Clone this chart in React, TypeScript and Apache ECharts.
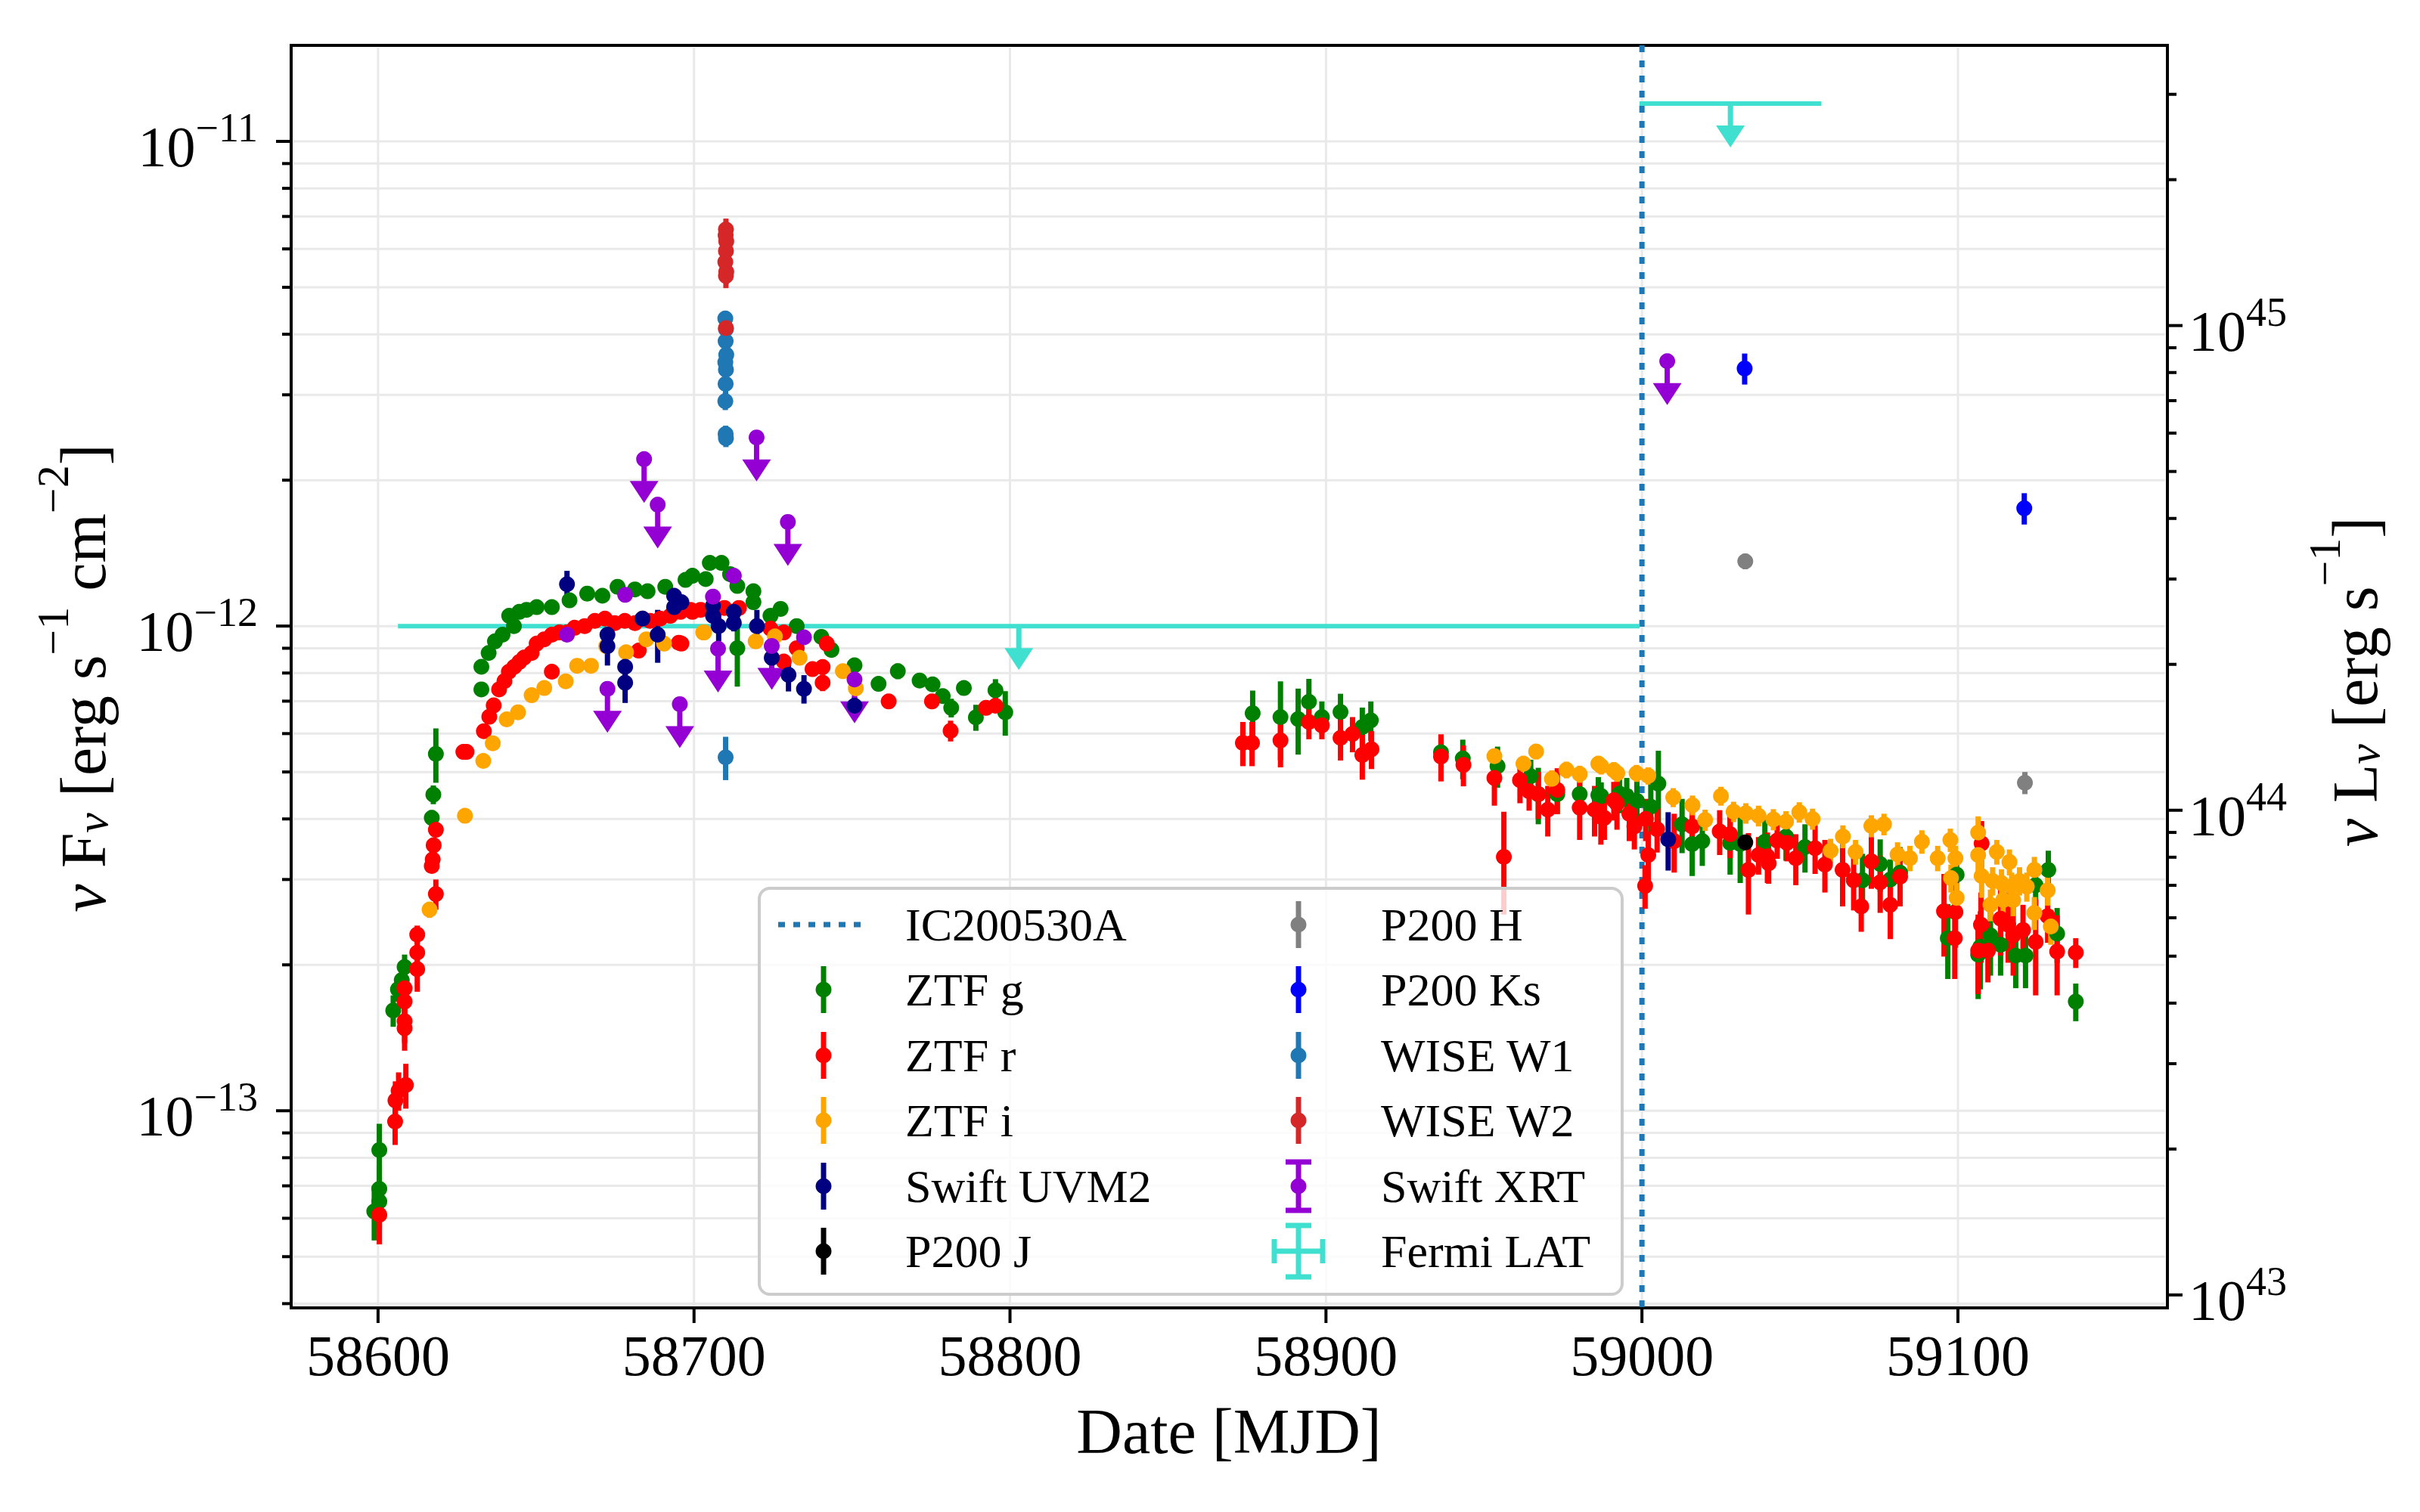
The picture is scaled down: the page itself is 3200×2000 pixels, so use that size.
import React, { useEffect, useRef } from 'react';
import * as echarts from 'echarts';

// fluxes are in units of 1e-12 erg s^-1 cm^-2 : [MJD, flux, error]
const ztfG = [
  [58598.8, 0.062, 0.008], [58600.4, 0.065, 0.008], [58600.4, 0.069, 0.008], [58600.4, 0.083, 0.011],
  [58604.8, 0.161, 0.012], [58606.3, 0.178, 0.01], [58607.5, 0.186, 0.01], [58608.4, 0.198, 0.012],
  [58617.0, 0.402, 0.015], [58617.5, 0.449, 0.02], [58618.3, 0.545, 0.07],
  [58632.7, 0.74, 0.02], [58632.7, 0.824, 0.02], [58635.0, 0.88, 0.02], [58637.0, 0.93, 0.02],
  [58639.4, 0.96, 0.02], [58641.5, 1.05, 0.02], [58643.0, 1.0, 0.02], [58644.7, 1.07, 0.02],
  [58647.0, 1.08, 0.02], [58650.2, 1.094, 0.02], [58655.0, 1.094, 0.02], [58660.6, 1.13, 0.02],
  [58666.2, 1.167, 0.02], [58671.0, 1.155, 0.02], [58675.8, 1.205, 0.02], [58681.3, 1.19, 0.02],
  [58685.3, 1.18, 0.02], [58690.9, 1.205, 0.02], [58697.3, 1.245, 0.02], [58699.5, 1.27, 0.02],
  [58703.7, 1.25, 0.02], [58705.0, 1.35, 0.02], [58708.7, 1.35, 0.02], [58711.4, 1.28, 0.02],
  [58713.7, 1.21, 0.02], [58713.7, 0.9, 0.15], [58718.8, 1.18, 0.02], [58718.8, 1.12, 0.02],
  [58724.2, 1.05, 0.02], [58727.4, 1.085, 0.02], [58732.5, 1.0, 0.02], [58740.3, 0.95, 0.02],
  [58743.5, 0.893, 0.02], [58750.8, 0.83, 0.02], [58758.4, 0.76, 0.02], [58764.5, 0.807, 0.03],
  [58771.4, 0.772, 0.02], [58775.5, 0.758, 0.02], [58778.7, 0.717, 0.02], [58781.4, 0.678, 0.03],
  [58785.4, 0.745, 0.02], [58789.2, 0.648, 0.04], [58795.4, 0.737, 0.04], [58798.5, 0.664, 0.07],
  [58876.8, 0.661, 0.075], [58885.6, 0.649, 0.12], [58891.2, 0.643, 0.1], [58894.6, 0.698, 0.08],
  [58898.7, 0.649, 0.05], [58904.6, 0.665, 0.06], [58911.5, 0.619, 0.06], [58914.2, 0.639, 0.06],
  [58936.4, 0.549, 0.04], [58943.3, 0.533, 0.05], [58954.3, 0.514, 0.05], [58964.8, 0.49, 0.04],
  [58967.2, 0.45, 0.06], [58973.2, 0.45, 0.04], [58980.3, 0.45, 0.04], [58986.2, 0.448, 0.04],
  [58987.1, 0.446, 0.03], [58992.9, 0.451, 0.04], [58995.2, 0.446, 0.04], [58998.4, 0.436, 0.05],
  [59002.8, 0.424, 0.05], [59005.2, 0.473, 0.08], [59012.7, 0.39, 0.05], [59015.9, 0.355, 0.05],
  [59019.1, 0.36, 0.04], [59027.9, 0.357, 0.05], [59031.1, 0.355, 0.06], [59038.9, 0.359, 0.04],
  [59045.6, 0.368, 0.04], [59051.6, 0.35, 0.04], [59069.8, 0.299, 0.04], [59075.4, 0.323, 0.04],
  [59078.6, 0.3, 0.03], [59081.7, 0.31, 0.04], [59096.8, 0.227, 0.04], [59099.6, 0.307, 0.03],
  [59106.4, 0.21, 0.04], [59107.1, 0.218, 0.04], [59110.3, 0.23, 0.04], [59113.5, 0.22, 0.03],
  [59118.3, 0.209, 0.03], [59121.4, 0.209, 0.03], [59124.6, 0.292, 0.03], [59128.6, 0.314, 0.03],
  [59131.4, 0.232, 0.03], [59137.3, 0.168, 0.015],
];

const ztfR = [
  [58600.4, 0.061, 0.008], [58605.4, 0.095, 0.01], [58605.5, 0.105, 0.01], [58606.5, 0.11, 0.01],
  [58608.8, 0.113, 0.012], [58608.4, 0.148, 0.015], [58608.4, 0.153, 0.015], [58608.4, 0.168, 0.015],
  [58608.4, 0.179, 0.015], [58612.4, 0.196, 0.02], [58612.4, 0.212, 0.015], [58612.4, 0.231, 0.01],
  [58617.0, 0.32, 0.01], [58617.3, 0.33, 0.01], [58617.6, 0.353, 0.01], [58618.3, 0.38, 0.01],
  [58618.3, 0.28, 0.02], [58627.0, 0.55, 0.01], [58628.0, 0.55, 0.01], [58633.5, 0.607, 0.01],
  [58635.2, 0.65, 0.01], [58636.6, 0.686, 0.01], [58638.3, 0.74, 0.01], [58640.0, 0.77, 0.01],
  [58641.4, 0.805, 0.01], [58643.1, 0.824, 0.01], [58644.7, 0.843, 0.01], [58646.2, 0.861, 0.01],
  [58648.6, 0.88, 0.01], [58650.2, 0.92, 0.01], [58652.6, 0.939, 0.01], [58655.0, 0.96, 0.01],
  [58655.0, 0.805, 0.01], [58657.4, 0.97, 0.01], [58659.8, 0.97, 0.01], [58662.2, 0.992, 0.01],
  [58665.4, 1.0, 0.01], [58668.6, 1.025, 0.01], [58671.8, 1.036, 0.01], [58674.9, 1.014, 0.01],
  [58678.1, 1.025, 0.01], [58681.3, 1.014, 0.01], [58682.5, 0.89, 0.01], [58683.7, 1.036, 0.01],
  [58686.1, 1.025, 0.01], [58689.3, 1.036, 0.01], [58692.5, 1.05, 0.01], [58695.2, 0.924, 0.01],
  [58695.7, 1.07, 0.01], [58696.0, 0.92, 0.01], [58698.9, 1.08, 0.01], [58699.5, 1.07, 0.01],
  [58702.1, 1.08, 0.01], [58709.6, 1.09, 0.01], [58714.2, 1.09, 0.01], [58724.2, 0.988, 0.02],
  [58728.4, 0.97, 0.02], [58728.4, 0.845, 0.02], [58732.5, 0.9, 0.02], [58737.5, 0.815, 0.02],
  [58740.7, 0.823, 0.02], [58740.7, 0.764, 0.03], [58742.0, 0.92, 0.02], [58761.6, 0.699, 0.02],
  [58775.3, 0.699, 0.02], [58781.2, 0.608, 0.03], [58792.4, 0.678, 0.02], [58795.4, 0.685, 0.02],
  [58873.7, 0.574, 0.06], [58876.6, 0.574, 0.06], [58885.6, 0.581, 0.07], [58894.6, 0.634, 0.05],
  [58898.7, 0.624, 0.04], [58904.6, 0.588, 0.06], [58908.4, 0.599, 0.05], [58911.5, 0.542, 0.06],
  [58914.4, 0.557, 0.05], [58936.4, 0.538, 0.06], [58943.5, 0.517, 0.05], [58953.3, 0.486, 0.06],
  [58956.3, 0.334, 0.08], [58961.4, 0.481, 0.05], [58964.3, 0.456, 0.04], [58967.2, 0.45, 0.05],
  [58970.2, 0.418, 0.05], [58973.2, 0.459, 0.05], [58980.3, 0.422, 0.06], [58985.0, 0.418, 0.05],
  [58987.0, 0.404, 0.05], [58988.1, 0.402, 0.04], [58991.1, 0.437, 0.04], [58992.1, 0.43, 0.05],
  [58996.0, 0.41, 0.05], [58997.6, 0.386, 0.04], [59001.0, 0.291, 0.03], [59001.2, 0.4, 0.04],
  [59002.0, 0.337, 0.04], [59004.8, 0.381, 0.04], [59010.2, 0.36, 0.05], [59015.9, 0.386, 0.04],
  [59024.6, 0.377, 0.04], [59027.9, 0.372, 0.04], [59033.7, 0.314, 0.06], [59036.9, 0.337, 0.03],
  [59039.7, 0.335, 0.04], [59040.1, 0.324, 0.03], [59042.8, 0.361, 0.03], [59045.9, 0.357, 0.03],
  [59048.7, 0.332, 0.04], [59054.8, 0.348, 0.04], [59057.9, 0.322, 0.04], [59063.5, 0.314, 0.05],
  [59067.0, 0.299, 0.04], [59069.4, 0.264, 0.03], [59072.6, 0.327, 0.04], [59075.4, 0.296, 0.04],
  [59078.6, 0.266, 0.04], [59081.7, 0.304, 0.04], [59095.6, 0.258, 0.05], [59099.2, 0.257, 0.04],
  [59099.0, 0.227, 0.04], [59106.4, 0.214, 0.04], [59107.3, 0.242, 0.04], [59107.5, 0.356, 0.04],
  [59109.5, 0.214, 0.03], [59113.5, 0.249, 0.04], [59115.9, 0.242, 0.04], [59117.5, 0.23, 0.04],
  [59120.6, 0.236, 0.03], [59124.6, 0.223, 0.05], [59128.4, 0.252, 0.03], [59131.4, 0.213, 0.04],
  [59137.3, 0.212, 0.015],
];

const ztfI = [
  [58616.3, 0.26, 0.01], [58627.5, 0.406, 0.01], [58633.3, 0.527, 0.01], [58636.3, 0.573, 0.01],
  [58640.7, 0.642, 0.01], [58644.3, 0.664, 0.01], [58648.6, 0.72, 0.01], [58652.6, 0.745, 0.01],
  [58659.4, 0.769, 0.01], [58663.0, 0.828, 0.01], [58667.4, 0.828, 0.01], [58672.2, 0.909, 0.01],
  [58678.5, 0.883, 0.01], [58684.9, 0.939, 0.01], [58690.5, 0.92, 0.01], [58702.9, 0.97, 0.01],
  [58703.2, 0.97, 0.01], [58719.5, 0.93, 0.01], [58725.6, 0.952, 0.01], [58733.4, 0.86, 0.01],
  [58747.1, 0.807, 0.01], [58751.2, 0.744, 0.01],
  [58953.3, 0.539, 0.02], [58962.5, 0.52, 0.02], [58966.5, 0.551, 0.02], [58971.5, 0.484, 0.02],
  [58976.1, 0.505, 0.02], [58980.3, 0.495, 0.02], [58986.2, 0.52, 0.02], [58987.1, 0.514, 0.02],
  [58991.1, 0.504, 0.02], [58992.2, 0.497, 0.02], [58998.3, 0.497, 0.02], [59002.0, 0.491, 0.02],
  [59009.9, 0.443, 0.02], [59016.0, 0.427, 0.02], [59020.0, 0.398, 0.02], [59025.0, 0.446, 0.02],
  [59029.0, 0.414, 0.02], [59032.9, 0.411, 0.02], [59036.9, 0.406, 0.02], [59041.6, 0.399, 0.02],
  [59045.6, 0.395, 0.02], [59049.8, 0.413, 0.02], [59054.0, 0.4, 0.02], [59059.7, 0.344, 0.02],
  [59063.6, 0.368, 0.02], [59067.6, 0.342, 0.02], [59072.6, 0.387, 0.02], [59076.6, 0.39, 0.02],
  [59080.9, 0.338, 0.02], [59084.8, 0.332, 0.02], [59088.6, 0.359, 0.02], [59093.6, 0.332, 0.02],
  [59097.6, 0.362, 0.02], [59097.8, 0.302, 0.02], [59099.2, 0.332, 0.02], [59099.6, 0.275, 0.02],
  [59106.4, 0.375, 0.03], [59106.4, 0.337, 0.03], [59107.5, 0.305, 0.03], [59110.3, 0.266, 0.02],
  [59111.0, 0.298, 0.02], [59112.3, 0.342, 0.02], [59113.8, 0.295, 0.02], [59114.3, 0.272, 0.02],
  [59116.3, 0.326, 0.02], [59117.0, 0.29, 0.02], [59117.5, 0.272, 0.02], [59119.5, 0.298, 0.02],
  [59121.8, 0.29, 0.02], [59124.2, 0.314, 0.02], [59124.2, 0.256, 0.02], [59128.4, 0.285, 0.02],
  [59129.4, 0.24, 0.02],
];

const swiftUvm2 = [
  [58659.8, 1.22, 0.08], [58672.6, 0.96, 0.03], [58672.6, 0.909, 0.08], [58678.2, 0.824, 0.03],
  [58678.2, 0.764, 0.07], [58683.7, 1.036, 0.03], [58688.5, 0.96, 0.12], [58693.7, 1.155, 0.03],
  [58693.7, 1.094, 0.03], [58696.0, 1.12, 0.03], [58706.0, 1.1, 0.03], [58706.0, 1.05, 0.03],
  [58707.8, 1.0, 0.07], [58712.6, 1.07, 0.03], [58712.6, 1.015, 0.04], [58719.9, 1.0, 0.08],
  [58724.6, 0.86, 0.03], [58729.9, 0.793, 0.06], [58734.8, 0.742, 0.05], [58750.8, 0.685, 0.03],
  [59008.3, 0.363, 0.05],
];

const p200J = [[59032.7, 0.358, 0.008]];
const p200H = [[59032.7, 1.36, 0.05], [59121.2, 0.475, 0.025]];
const p200Ks = [[59032.5, 3.4, 0.25], [59121.0, 1.75, 0.13]];

const wiseW1 = [
  [58709.9, 4.31, 0.15], [58710.1, 4.1, 0.15], [58710.0, 3.87, 0.15], [58710.2, 3.63, 0.15],
  [58709.9, 3.5, 0.15], [58710.1, 3.38, 0.15], [58710.0, 3.16, 0.15], [58709.9, 2.91, 0.12],
  [58710.0, 2.49, 0.1], [58710.1, 2.44, 0.1], [58710.0, 0.536, 0.055],
];
const wiseW2 = [
  [58710.1, 6.58, 0.35], [58710.0, 6.4, 0.35], [58710.2, 6.22, 0.35], [58710.1, 5.94, 0.35],
  [58709.9, 5.64, 0.3], [58710.2, 5.38, 0.3], [58710.1, 5.28, 0.3], [58710.1, 4.12, 0.25],
];

const xrtDetections = [
  [58659.8, 0.96, 0.03], [58678.2, 1.16, 0.03], [58706.0, 1.15, 0.03], [58712.6, 1.27, 0.03],
  [58734.8, 0.948, 0.03],
];
// upper limits: [MJD, flux]
const xrtUpperLimits = [
  [58672.6, 0.742], [58684.2, 2.21], [58688.5, 1.78], [58695.5, 0.69], [58707.6, 0.898],
  [58719.8, 2.45], [58724.6, 0.91], [58729.7, 1.64], [58750.8, 0.776], [59008.0, 3.52],
];
// Fermi LAT upper limits: [MJD centre, flux, half width in days]
const fermiUpperLimits = [[58802.8, 1.0, 196.5], [59028.0, 11.97, 28.8]];

const neutrinoMjd = [59000];

const xTicks = [58600, 58700, 58800, 58900, 59000, 59100];
const fluxMajorTicks = [1e-13, 1e-12, 1e-11];
const fluxMinorTicks = [
  4e-14, 5e-14, 6e-14, 7e-14, 8e-14, 9e-14,
  2e-13, 3e-13, 4e-13, 5e-13, 6e-13, 7e-13, 8e-13, 9e-13,
  2e-12, 3e-12, 4e-12, 5e-12, 6e-12, 7e-12, 8e-12, 9e-12,
];
const lumMajorTicks = [1e43, 1e44, 1e45];
const lumMinorTicks = [
  2e43, 3e43, 4e43, 5e43, 6e43, 7e43, 8e43, 9e43,
  2e44, 3e44, 4e44, 5e44, 6e44, 7e44, 8e44, 9e44,
  2e45, 3e45,
];

const X_MIN = 58572.5;
const X_MAX = 59166.3;
const FLUX_MIN = 3.92e-14;
const FLUX_MAX = 1.578e-11;
const LUM_PER_FLUX = Math.pow(10, 56.38);

const FONT = '"Liberation Serif", "DejaVu Serif", serif';
const GRID_COLOR = '#e9e9e9';

const legendLeft = [
  { name: 'IC200530A', color: '#1f77b4', kind: 'dotted' },
  { name: 'ZTF g', color: '#008000', kind: 'bar' },
  { name: 'ZTF r', color: '#ff0000', kind: 'bar' },
  { name: 'ZTF i', color: '#ffa500', kind: 'bar' },
  { name: 'Swift UVM2', color: '#000080', kind: 'bar' },
  { name: 'P200 J', color: '#000000', kind: 'bar' },
];
const legendRight = [
  { name: 'P200 H', color: '#808080', kind: 'bar' },
  { name: 'P200 Ks', color: '#0000ff', kind: 'bar' },
  { name: 'WISE W1', color: '#1f77b4', kind: 'bar' },
  { name: 'WISE W2', color: '#d62728', kind: 'bar' },
  { name: 'Swift XRT', color: '#9400d3', kind: 'caps' },
  { name: 'Fermi LAT', color: '#40e0d0', kind: 'cross' },
];

const toFlux = (rows: number[][]) => rows.map((r) => [r[0], r[1] * 1e-12, (r[2] || 0) * 1e-12]);

function powerLabel(v: number) {
  const e = Math.log10(v);
  const n = Math.round(e);
  if (Math.abs(e - n) > 1e-6) return '';
  return `{b|10}{s|${n < 0 ? '\u2212' + -n : n}}`;
}

const labelRich = {
  b: { fontSize: 76, lineHeight: 90, verticalAlign: 'bottom', fontFamily: FONT, color: '#000' },
  s: { fontSize: 54, lineHeight: 50, verticalAlign: 'top', fontFamily: FONT, color: '#000' },
};

function errorBars(name: string, rows: number[][], color: string) {
  return {
    name, type: 'custom', coordinateSystem: 'cartesian2d', silent: true, clip: true,
    data: toFlux(rows), encode: { x: 0, y: 1 },
    renderItem: (params: any, api: any) => {
      const t = api.value(0), f = api.value(1), e = api.value(2);
      const hi = api.coord([t, f + e]);
      const lo = api.coord([t, Math.max(f - e, f * 0.02)]);
      return { type: 'line', shape: { x1: hi[0], y1: hi[1], x2: lo[0], y2: lo[1] }, style: { stroke: color, lineWidth: 7 } };
    },
  };
}

function markers(name: string, rows: number[][], color: string) {
  return {
    name, type: 'scatter', silent: true, symbol: 'circle', symbolSize: 21,
    data: toFlux(rows).map((r) => [r[0], r[1]]),
    itemStyle: { color, opacity: 1 },
  };
}

function upperLimits(name: string, rows: number[][], color: string, withSpan: boolean) {
  return {
    name, type: 'custom', coordinateSystem: 'cartesian2d', silent: true, clip: true,
    data: toFlux(rows), encode: { x: 0, y: 1 },
    renderItem: (params: any, api: any) => {
      const t = api.value(0), f = api.value(1), w = api.value(2) / 1e-12;
      const p = api.coord([t, f]);
      const children: any[] = [];
      if (withSpan) {
        const a = api.coord([t - w, f]);
        const b = api.coord([t + w, f]);
        children.push({ type: 'line', shape: { x1: a[0], y1: p[1], x2: b[0], y2: p[1] }, style: { stroke: color, lineWidth: 6 } });
      }
      children.push({ type: 'line', shape: { x1: p[0], y1: p[1], x2: p[0], y2: p[1] + 31 }, style: { stroke: color, lineWidth: 7 } });
      children.push({ type: 'polygon', shape: { points: [[p[0] - 19, p[1] + 29], [p[0] + 19, p[1] + 29], [p[0], p[1] + 58]] }, style: { fill: color } });
      return { type: 'group', children };
    },
  };
}

function yTickSeries(major: number[], minor: number[], axisIndex: number, withGrid: boolean) {
  const rows = [...major.map((v) => [X_MIN + 1, v, 1]), ...minor.map((v) => [X_MIN + 1, v, 0])];
  return {
    type: 'custom', coordinateSystem: 'cartesian2d', yAxisIndex: axisIndex, silent: true, clip: false,
    data: rows, encode: { x: 0, y: 1 },
    renderItem: (params: any, api: any) => {
      const cs = params.coordSys;
      const y = api.coord([api.value(0), api.value(1)])[1];
      const len = api.value(2) ? 20 : 12;
      const children: any[] = [];
      if (withGrid) {
        children.push({ type: 'line', shape: { x1: cs.x + 3, y1: y, x2: cs.x + cs.width - 3, y2: y }, style: { stroke: GRID_COLOR, lineWidth: 3 } });
      }
      const x0 = axisIndex === 0 ? cs.x - len : cs.x + cs.width;
      children.push({ type: 'line', shape: { x1: x0, y1: y, x2: x0 + len, y2: y }, style: { stroke: '#000', lineWidth: 4 } });
      return { type: 'group', children };
    },
  };
}

function xTickSeries() {
  return {
    type: 'custom', coordinateSystem: 'cartesian2d', silent: true, clip: false,
    data: xTicks.map((t) => [t, 1e-12]), encode: { x: 0, y: 1 },
    renderItem: (params: any, api: any) => {
      const cs = params.coordSys;
      const x = api.coord([api.value(0), api.value(1)])[0];
      const bottom = cs.y + cs.height;
      return {
        type: 'group',
        children: [
          { type: 'line', shape: { x1: x, y1: cs.y + 3, x2: x, y2: bottom - 3 }, style: { stroke: GRID_COLOR, lineWidth: 3 } },
          { type: 'line', shape: { x1: x, y1: bottom, x2: x, y2: bottom + 20 }, style: { stroke: '#000', lineWidth: 4 } },
        ],
      };
    },
  };
}

function neutrinoLine() {
  return {
    name: 'IC200530A', type: 'custom', coordinateSystem: 'cartesian2d', silent: true, clip: true,
    data: neutrinoMjd.map((t) => [t, 1e-12]), encode: { x: 0, y: 1 },
    renderItem: (params: any, api: any) => {
      const cs = params.coordSys;
      const x = api.coord([api.value(0), api.value(1)])[0];
      return { type: 'line', shape: { x1: x, y1: cs.y, x2: x, y2: cs.y + cs.height }, style: { stroke: '#1f77b4', lineWidth: 7, lineDash: [9, 11] } };
    },
  };
}

function legendGraphic() {
  const rowsY = [1223, 1309, 1396, 1482, 1569, 1655];
  const cols = [
    { items: legendLeft, mx: 1089, tx: 1197 },
    { items: legendRight, mx: 1717, tx: 1826 },
  ];
  const Z = 100;
  const els: any[] = [
    {
      type: 'rect', z: Z, shape: { x: 1004, y: 1175, width: 1141, height: 537, r: 14 },
      style: { fill: 'rgba(255,255,255,0.8)', stroke: '#cccccc', lineWidth: 4 },
    },
  ];
  const seg = (x1: number, y1: number, x2: number, y2: number, color: string, extra: any = {}) => ({
    type: 'line', z: Z + 1, shape: { x1, y1, x2, y2 }, style: { stroke: color, lineWidth: 7, ...extra },
  });
  cols.forEach((col) => {
    col.items.forEach((it, i) => {
      const cx = col.mx, cy = rowsY[i], c = it.color;
      if (it.kind === 'dotted') {
        els.push(seg(cx - 60, cy, cx + 58, cy, c, { lineDash: [9, 11] }));
      } else if (it.kind === 'cross') {
        els.push(seg(cx, cy - 34, cx, cy + 34, c));
        els.push(seg(cx - 32, cy, cx + 32, cy, c));
        els.push(seg(cx - 17, cy - 34, cx + 17, cy - 34, c));
        els.push(seg(cx - 17, cy + 34, cx + 17, cy + 34, c));
        els.push(seg(cx - 32, cy - 16, cx - 32, cy + 16, c));
        els.push(seg(cx + 32, cy - 16, cx + 32, cy + 16, c));
      } else {
        els.push(seg(cx, cy - 31, cx, cy + 31, c));
        if (it.kind === 'caps') {
          els.push(seg(cx - 17, cy - 32, cx + 17, cy - 32, c));
          els.push(seg(cx - 17, cy + 32, cx + 17, cy + 32, c));
        }
        els.push({ type: 'circle', z: Z + 2, shape: { cx, cy, r: 10.5 }, style: { fill: c } });
      }
      els.push({
        type: 'text', z: Z + 2, x: col.tx, y: cy,
        style: { text: it.name, fontSize: 62, fontFamily: FONT, fill: '#000', align: 'left', verticalAlign: 'middle' },
      });
    });
  });
  return els;
}

const titleRich = {
  r: { fontSize: 84, lineHeight: 112, verticalAlign: 'bottom', fontFamily: FONT, fill: '#000' },
  i: { fontSize: 84, lineHeight: 112, verticalAlign: 'bottom', fontStyle: 'italic', fontFamily: FONT, fill: '#000' },
  sb: { fontSize: 60, lineHeight: 60, verticalAlign: 'bottom', fontStyle: 'italic', fontFamily: FONT, fill: '#000' },
  sp: { fontSize: 60, lineHeight: 78, verticalAlign: 'top', fontFamily: FONT, fill: '#000' },
};

function buildOption() {
  const axisLine = { show: true, lineStyle: { color: '#000', width: 4 } };
  return {
    animation: false,
    backgroundColor: '#ffffff',
    textStyle: { fontFamily: FONT },
    grid: { left: 385, right: 334, top: 60, bottom: 270, show: true, borderColor: '#000', borderWidth: 4, backgroundColor: 'transparent' },
    xAxis: {
      type: 'value', min: X_MIN, max: X_MAX,
      axisLine, axisTick: { show: false }, splitLine: { show: false },
      axisLabel: {
        customValues: xTicks,
        formatter: (v: number) => (xTicks.indexOf(v) >= 0 ? String(v) : ''),
        fontSize: 76, fontFamily: FONT, color: '#000', margin: 18, lineHeight: 90,
      },
    },
    yAxis: [
      {
        type: 'log', min: FLUX_MIN, max: FLUX_MAX, position: 'left',
        axisLine, axisTick: { show: false }, splitLine: { show: false },
        axisLabel: { customValues: fluxMajorTicks, formatter: powerLabel, rich: labelRich, margin: 44 },
      },
      {
        type: 'log', min: FLUX_MIN * LUM_PER_FLUX, max: FLUX_MAX * LUM_PER_FLUX, position: 'right',
        axisLine, axisTick: { show: false }, splitLine: { show: false },
        axisLabel: { customValues: lumMajorTicks, formatter: powerLabel, rich: labelRich, margin: 28 },
      },
    ],
    graphic: [
      {
        type: 'text', x: 96, y: 897, rotation: Math.PI / 2,
        style: {
          text: '{i|\u03bd }{r|F}{sb|\u03bd}{r| [erg s}{sp|\u22121}{r| cm}{sp|\u22122}{r|]}',
          rich: titleRich, align: 'center', verticalAlign: 'middle',
        },
      },
      {
        type: 'text', x: 3100, y: 902, rotation: Math.PI / 2,
        style: {
          text: '{i|\u03bd }{r|L}{sb|\u03bd}{r| [erg s}{sp|\u22121}{r|]}',
          rich: titleRich, align: 'center', verticalAlign: 'middle',
        },
      },
      {
        type: 'text', x: 1625, y: 1893,
        style: { text: 'Date [MJD]', fontSize: 84, fontFamily: FONT, fill: '#000', align: 'center', verticalAlign: 'middle' },
      },
      ...legendGraphic(),
    ],
    series: [
      yTickSeries(fluxMajorTicks, fluxMinorTicks, 0, true),
      yTickSeries(lumMajorTicks, lumMinorTicks, 1, false),
      xTickSeries(),
      neutrinoLine(),
      upperLimits('Fermi LAT', fermiUpperLimits, '#40e0d0', true),
      errorBars('ZTF g', ztfG, '#008000'), markers('ZTF g', ztfG, '#008000'),
      errorBars('ZTF r', ztfR, '#ff0000'), markers('ZTF r', ztfR, '#ff0000'),
      errorBars('ZTF i', ztfI, '#ffa500'), markers('ZTF i', ztfI, '#ffa500'),
      errorBars('Swift UVM2', swiftUvm2, '#000080'), markers('Swift UVM2', swiftUvm2, '#000080'),
      errorBars('P200 J', p200J, '#000000'), markers('P200 J', p200J, '#000000'),
      errorBars('P200 H', p200H, '#808080'), markers('P200 H', p200H, '#808080'),
      errorBars('P200 Ks', p200Ks, '#0000ff'), markers('P200 Ks', p200Ks, '#0000ff'),
      errorBars('WISE W1', wiseW1, '#1f77b4'), markers('WISE W1', wiseW1, '#1f77b4'),
      errorBars('WISE W2', wiseW2, '#d62728'), markers('WISE W2', wiseW2, '#d62728'),
      errorBars('Swift XRT', xrtDetections, '#9400d3'), markers('Swift XRT', xrtDetections, '#9400d3'),
      upperLimits('Swift XRT', xrtUpperLimits.map((r) => [r[0], r[1], 0]), '#9400d3', false),
      markers('Swift XRT', xrtUpperLimits, '#9400d3'),
    ],
  };
}

export default function App() {
  const chartRef = useRef<HTMLDivElement>(null);

  useEffect(() => {
    document.body.style.margin = '0';
    if (!chartRef.current) return;
    const chart = echarts.init(chartRef.current, undefined, { renderer: 'svg' });
    chart.setOption(buildOption() as any);
    return () => {
      chart.dispose();
    };
  }, []);

  return <div ref={chartRef} style={{ width: '3200px', height: '2000px', background: '#fff' }}></div>;
}
